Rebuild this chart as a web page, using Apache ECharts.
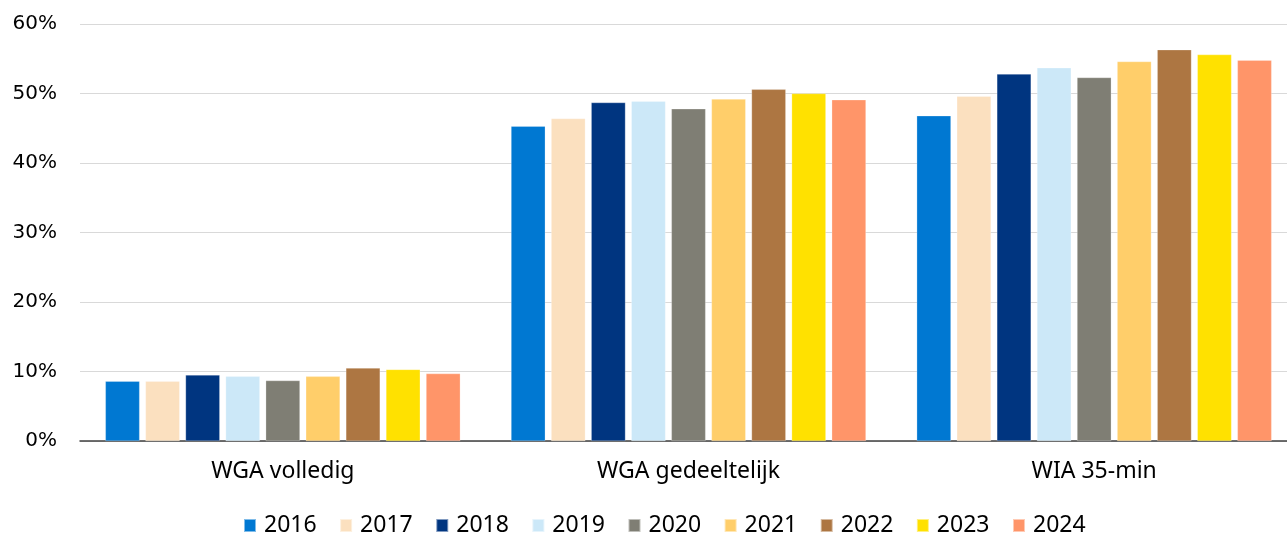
<!DOCTYPE html>
<html>
<head>
<meta charset="utf-8">
<script src="https://cdn.jsdelivr.net/npm/echarts@6/dist/echarts.min.js"></script>
<style>
  html, body { margin: 0; padding: 0; background: #fff; }
  #main { width: 1287px; height: 533px; }
</style>
</head>
<body>
<div id="main"></div>
<script>
// categorieën en jaren
var categories = ['WGA volledig', 'WGA gedeeltelijk', 'WIA 35-min'];
var years = ['2016', '2017', '2018', '2019', '2020', '2021', '2022', '2023', '2024'];
var yTicks = [0, 10, 20, 30, 40, 50, 60];

// waarden per jaar (%), volgorde = categories
var v2016 = [8.6, 45.3, 46.8];
var v2017 = [8.6, 46.4, 49.6];
var v2018 = [9.5, 48.7, 52.8];
var v2019 = [9.3, 48.9, 53.7];
var v2020 = [8.7, 47.8, 52.3];
var v2021 = [9.3, 49.2, 54.6];
var v2022 = [10.5, 50.6, 56.3];
var v2023 = [10.3, 50.0, 55.6];
var v2024 = [9.7, 49.1, 54.8];
var values = [v2016, v2017, v2018, v2019, v2020, v2021, v2022, v2023, v2024];

var colors = ['#0078d2', '#fbe0bf', '#003580', '#cce8f8', '#7f7e74', '#ffce6a', '#ad7642', '#ffe100', '#ff9569'];

var chartDom = document.getElementById('main');
var myChart = echarts.init(chartDom);
var option;

var series = years.map(function (y, i) {
  return {
    name: y,
    type: 'bar',
    data: values[i],
    barGap: '17%',
    barCategoryGap: '12.5%',
    itemStyle: { color: colors[i], borderColor: 'rgba(255,255,255,0.5)', borderWidth: 0.5 }
  };
});

option = {
  animation: false,
  color: colors,
  textStyle: { fontFamily: 'Noto Sans' },
  // de x-as loopt iets voorbij de rechterrand
  grid: { left: 80, right: -10, top: 24, bottom: 92, containLabel: false, outerBoundsMode: 'none' },
  legend: {
    top: 509,
    left: 238,
    itemWidth: 12,
    itemHeight: 13,
    itemGap: 22.5,
    icon: 'rect',
    textStyle: { fontSize: 23, color: '#000', fontFamily: 'Noto Sans', padding: [0, 0, 0, 3] },
    data: years
  },
  xAxis: {
    type: 'category',
    data: categories,
    axisTick: { show: false },
    axisLine: { lineStyle: { color: '#404040', width: 1.5 } },
    axisLabel: { fontSize: 23, color: '#000', margin: 19, fontFamily: 'Noto Sans' }
  },
  yAxis: {
    type: 'value',
    min: yTicks[0],
    max: yTicks[yTicks.length - 1],
    interval: 10,
    axisLabel: { fontSize: 20, color: '#000', margin: 23, formatter: '{value}%', fontFamily: 'DejaVu Sans' },
    splitLine: { lineStyle: { color: '#d9d9d9', width: 1 } },
    axisLine: { show: false },
    axisTick: { show: false }
  },
  series: series
};

option && myChart.setOption(option);
</script>
</body>
</html>
